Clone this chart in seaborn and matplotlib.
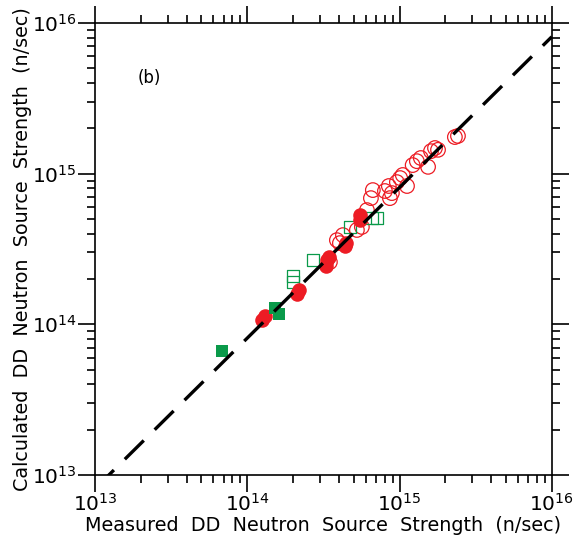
import numpy as np
import pandas as pd
import matplotlib
matplotlib.use("Agg")
import matplotlib.pyplot as plt
import seaborn as sns
from matplotlib.ticker import FixedLocator, NullFormatter

# ---- data (n/sec) ----
green_filled_x = [6.82e13, 1.52e14, 1.61e14]
green_filled_y = [6.65e13, 1.28e14, 1.17e14]

red_filled_x = [1.25e14, 1.31e14, 2.12e14, 2.18e14, 3.29e14, 3.34e14, 3.44e14,
                4.38e14, 4.44e14, 5.50e14, 5.50e14]
red_filled_y = [1.07e14, 1.14e14, 1.59e14, 1.69e14, 2.44e14, 2.67e14, 2.80e14,
                3.31e14, 3.47e14, 5.31e14, 4.92e14]

green_open_x = [2.00e14, 2.00e14, 2.70e14, 4.72e14, 6.59e14, 7.11e14]
green_open_y = [2.09e14, 1.91e14, 2.67e14, 4.43e14, 5.07e14, 5.07e14]

red_open_x = [3.49e14, 3.88e14, 4.25e14, 4.06e14, 5.25e14, 5.66e14, 6.11e14,
              6.49e14, 6.68e14, 8.02e14, 8.51e14, 8.65e14, 8.91e14, 9.61e14,
              1.01e15, 1.05e15, 1.12e15, 1.22e15, 1.30e15, 1.38e15, 1.54e15,
              1.61e15, 1.71e15, 1.79e15, 2.31e15, 2.42e15]
red_open_y = [2.59e14, 3.62e14, 3.91e14, 3.46e14, 4.23e14, 4.43e14, 5.73e14,
              6.88e14, 7.78e14, 7.67e14, 8.28e14, 6.88e14, 7.43e14, 8.79e14,
              9.35e14, 9.80e14, 8.28e14, 1.14e15, 1.21e15, 1.27e15, 1.11e15,
              1.41e15, 1.48e15, 1.44e15, 1.75e15, 1.78e15]

fit_x = [1e13, 1e16]
fit_y = [8.1e12, 8.1e15]

major_ticks = [1e13, 1e14, 1e15, 1e16]
tick_labels = [r"$10^{13}$", r"$10^{14}$", r"$10^{15}$", r"$10^{16}$"]

RED = "#ED1C24"
GREEN = "#0A9A4A"

sns.set_style("white")
rc = plt.rcParams
rc["font.family"] = ["DejaVu Sans"]
rc["mathtext.default"] = "regular"
rc["text.color"] = "black"
rc["axes.labelcolor"] = "black"

fig = plt.figure(figsize=(5.79, 5.41), dpi=100)
ax = fig.add_axes([0.164, 0.122, 0.789, 0.8355])
ax.set_xscale("log")
ax.set_yscale("log")

sns.scatterplot(x=red_open_x, y=red_open_y, ax=ax, marker="o", s=110,
                facecolors="none", edgecolor=RED, linewidth=0.9, zorder=3)
sns.scatterplot(x=green_open_x, y=green_open_y, ax=ax, marker="s", s=70,
                facecolors="none", edgecolor=GREEN, linewidth=0.9, zorder=3)
sns.scatterplot(x=red_filled_x, y=red_filled_y, ax=ax, marker="o", s=110,
                color=RED, edgecolor=RED, linewidth=0, zorder=4)
sns.scatterplot(x=green_filled_x, y=green_filled_y, ax=ax, marker="s", s=75,
                color=GREEN, edgecolor=GREEN, linewidth=0, zorder=4)

sns.lineplot(x=fit_x, y=fit_y, ax=ax, color="black", linewidth=2.4,
             dashes=False, zorder=5)
line = ax.get_lines()[-1]
line.set_dashes((8, 4.6))
line.set_dash_capstyle("butt")

ax.set_xlim(1e13, 1e16)
ax.set_ylim(1e13, 1e16)

for sp in ax.spines.values():
    sp.set_linewidth(1.2)
    sp.set_color("black")

minor = [m * 10.0 ** e for e in (13, 14, 15) for m in range(2, 10)]
for axis in (ax.xaxis, ax.yaxis):
    axis.set_major_locator(FixedLocator(major_ticks))
    axis.set_minor_locator(FixedLocator(minor))
    axis.set_minor_formatter(NullFormatter())
ax.set_xticklabels(tick_labels)
ax.set_yticklabels(tick_labels)

ax.tick_params(which="both", direction="out", top=True, right=True,
               bottom=True, left=True, color="black")
ax.tick_params(which="major", length=12, width=1.2, labelsize=14.5, pad=1,
               labelcolor="black")
ax.tick_params(which="minor", length=6, width=1.2)

ax.set_xlabel("Measured  DD  Neutron  Source  Strength  (n/sec)", fontsize=13.8,
              labelpad=1, color="black")
ax.set_ylabel("Calculated  DD  Neutron  Source  Strength  (n/sec)", fontsize=13.8,
              labelpad=0, color="black")

ax.text(0.12, 0.878, "(b)", transform=ax.transAxes, fontsize=12,
        ha="center", va="center", color="black")

fig.savefig("out.png", dpi=100)
